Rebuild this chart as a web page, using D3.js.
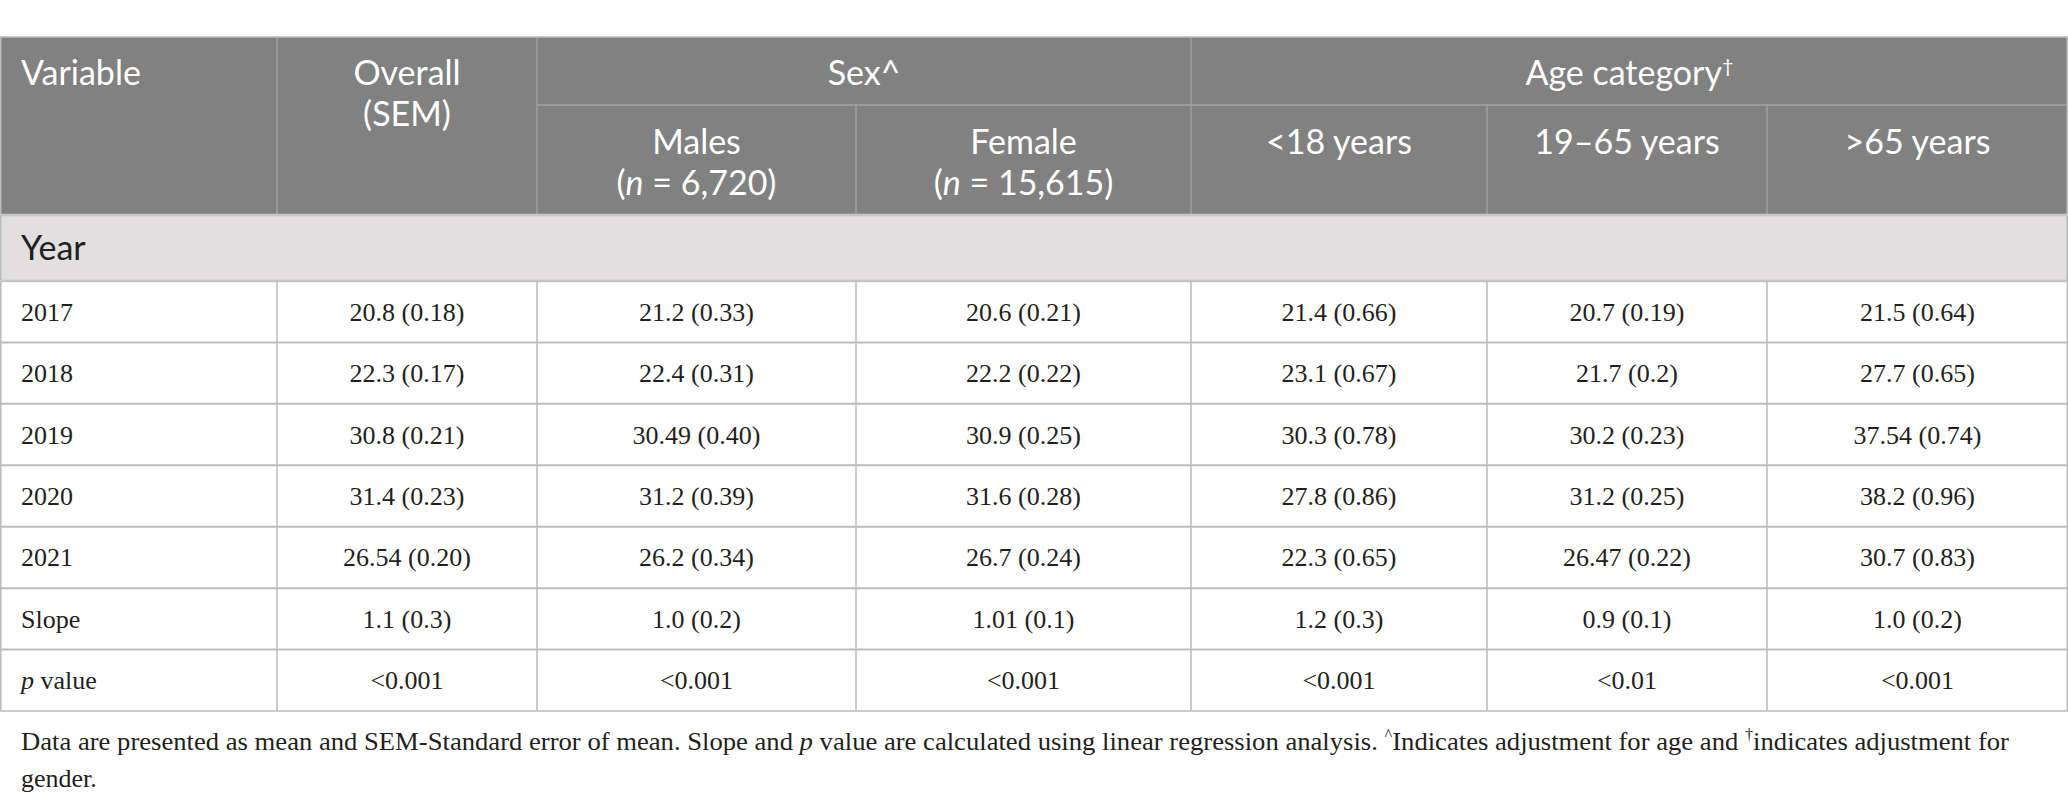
<!DOCTYPE html>
<html lang="en">
  <head>
    <meta charset="UTF-8" />
    <title>Trend table</title>
    <script src="https://d3js.org/d3.v7.min.js"></script>
    <style>
      body {
        margin: 0;
        background: #fff;
      }
      .head {
        font-family: Lato, "Open Sans", sans-serif;
        font-size: 34px;
        fill: #fff;
      }
      .cell {
        font-family: "Liberation Serif", serif;
        font-size: 26px;
        fill: #231f20;
      }
      .note {
        font-family: "Liberation Serif", serif;
        font-size: 26px;
        fill: #231f20;
      }
    </style>
  </head>
  <body>
    <svg id="chart" width="2068" height="805"></svg>

    <script>
      // table data
      const columns = ["variable", "overall", "males", "female", "under18", "age19to65", "over65"];
      const rowLabels = ["2017", "2018", "2019", "2020", "2021", "Slope", "p value"];
      const overall = ["20.8 (0.18)", "22.3 (0.17)", "30.8 (0.21)", "31.4 (0.23)", "26.54 (0.20)", "1.1 (0.3)", "<0.001"];
      const males = ["21.2 (0.33)", "22.4 (0.31)", "30.49 (0.40)", "31.2 (0.39)", "26.2 (0.34)", "1.0 (0.2)", "<0.001"];
      const female = ["20.6 (0.21)", "22.2 (0.22)", "30.9 (0.25)", "31.6 (0.28)", "26.7 (0.24)", "1.01 (0.1)", "<0.001"];
      const under18 = ["21.4 (0.66)", "23.1 (0.67)", "30.3 (0.78)", "27.8 (0.86)", "22.3 (0.65)", "1.2 (0.3)", "<0.001"];
      const age19to65 = ["20.7 (0.19)", "21.7 (0.2)", "30.2 (0.23)", "31.2 (0.25)", "26.47 (0.22)", "0.9 (0.1)", "<0.01"];
      const over65 = ["21.5 (0.64)", "27.7 (0.65)", "37.54 (0.74)", "38.2 (0.96)", "30.7 (0.83)", "1.0 (0.2)", "<0.001"];
      const footnote = [
        [["Data are presented as mean and SEM-Standard error of mean. Slope and ", ""], ["p", "italic"], [" value are calculated using linear regression analysis. ", ""], ["^", "sup"], ["Indicates adjustment for age and ", ""], ["†", "sup"], ["indicates adjustment for", ""]],
        [["gender.", ""]]
      ];

      const valueCols = { overall, males, female, under18, age19to65, over65 };

      const width = 2068;
      const colEdges = [0, 277, 537, 856, 1191, 1487, 1767, 2068];
      const tableTop = 37;
      const headMid = 105;
      const headBottom = 215;
      const sectionBottom = 281;
      const tableBottom = 711;

      const svg = d3.select("#chart");

      const x = d3.scaleOrdinal().domain(columns).range(colEdges.slice(0, -1));
      const colW = (c) => colEdges[columns.indexOf(c) + 1] - x(c);
      const y = d3.scaleBand().domain(rowLabels).range([sectionBottom, tableBottom]);

      // backgrounds
      svg.append("rect").attr("x", 0).attr("y", tableTop).attr("width", width).attr("height", headBottom - tableTop).attr("fill", "#808180");
      svg.append("rect").attr("x", 0).attr("y", headBottom).attr("width", width).attr("height", sectionBottom - headBottom).attr("fill", "#e1dfe0");

      // header grid
      const hg = svg.append("g").attr("stroke", "#a3a4a3").attr("stroke-width", 1.3);
      hg.append("line").attr("x1", x("males")).attr("x2", width).attr("y1", headMid).attr("y2", headMid);
      [
        ["overall", tableTop],
        ["males", tableTop],
        ["female", headMid],
        ["under18", tableTop],
        ["age19to65", headMid],
        ["over65", headMid]
      ].forEach(([c, top]) => {
        hg.append("line").attr("x1", x(c)).attr("x2", x(c)).attr("y1", top).attr("y2", headBottom);
      });

      // body grid
      const bg = svg.append("g").attr("stroke", "#bcbcbc").attr("stroke-width", 1.5).attr("fill", "none");
      bg.append("rect").attr("x", 0.75).attr("y", tableTop).attr("width", width - 1.5).attr("height", tableBottom - tableTop);
      bg.append("line").attr("x1", 0).attr("x2", width).attr("y1", headBottom).attr("y2", headBottom).attr("stroke", "#c6c6c6").attr("stroke-width", 2.5);
      bg.append("line").attr("x1", 0).attr("x2", width).attr("y1", sectionBottom).attr("y2", sectionBottom).attr("stroke", "#c6c6c6").attr("stroke-width", 2.5);
      rowLabels.slice(1).forEach((r) => {
        bg.append("line").attr("x1", 0).attr("x2", width).attr("y1", y(r)).attr("y2", y(r)).attr("stroke-width", 2);
      });
      columns.slice(1).forEach((c) => {
        bg.append("line").attr("x1", x(c)).attr("x2", x(c)).attr("y1", sectionBottom).attr("y2", tableBottom);
      });

      // header text
      const head = svg.append("g").attr("class", "head");
      const headText = (px, py, anchor, parts) => {
        const t = head.append("text").attr("x", px).attr("y", py).attr("text-anchor", anchor);
        parts.forEach(([s, st]) => {
          const sp = t.append("tspan").text(s);
          if (st === "italic") sp.attr("font-style", "italic");
          if (st === "sup") sp.attr("font-size", "20px").attr("dy", -12);
        });
      };
      const cx = (c) => x(c) + colW(c) / 2;
      headText(21, 85, "start", [["Variable", ""]]);
      headText(cx("overall"), 85, "middle", [["Overall", ""]]);
      headText(cx("overall"), 126, "middle", [["(SEM)", ""]]);
      headText((x("males") + x("under18")) / 2, 85, "middle", [["Sex^", ""]]);
      headText((x("under18") + width) / 2, 85, "middle", [["Age category", ""], ["†", "sup"]]);
      headText(cx("males"), 154, "middle", [["Males", ""]]);
      headText(cx("males"), 195, "middle", [["(", ""], ["n", "italic"], [" = 6,720)", ""]]);
      headText(cx("female"), 154, "middle", [["Female", ""]]);
      headText(cx("female"), 195, "middle", [["(", ""], ["n", "italic"], [" = 15,615)", ""]]);
      headText(cx("under18"), 154, "middle", [["<18 years", ""]]);
      headText(cx("age19to65"), 154, "middle", [["19\u201365 years", ""]]);
      headText(cx("over65"), 154, "middle", [[">65 years", ""]]);

      // section row
      svg.append("text").attr("class", "head").attr("x", 21).attr("y", 260).style("fill", "#231f20").text("Year");

      // body cells
      const body = svg.append("g").attr("class", "cell");
      const base = y.bandwidth() / 2 + 9;
      rowLabels.forEach((r) => {
        const t = body.append("text").attr("x", 21).attr("y", y(r) + base);
        if (r === "p value") {
          t.append("tspan").attr("font-style", "italic").text("p");
          t.append("tspan").text(" value");
        } else {
          t.text(r);
        }
      });
      Object.entries(valueCols).forEach(([c, vals]) => {
        body
          .selectAll(null)
          .data(vals)
          .enter()
          .append("text")
          .attr("x", cx(c))
          .attr("y", (d, i) => y(rowLabels[i]) + base)
          .attr("text-anchor", "middle")
          .text((d) => d);
      });

      // footnote
      const noteLen = [1988, null];
      footnote.forEach((line, i) => {
        const t = svg.append("text").attr("class", "note").attr("x", 21).attr("y", 750 + i * 37);
        if (noteLen[i]) t.attr("textLength", noteLen[i]).attr("lengthAdjust", "spacingAndGlyphs");
        line.forEach(([s, st]) => {
          const sp = t.append("tspan").text(s);
          if (st === "italic") sp.attr("font-style", "italic");
          if (st === "sup") sp.attr("font-size", "16px").attr("dy", -10);
          else if (st !== "sup" && sp.node().previousSibling && sp.node().previousSibling.getAttribute("dy")) sp.attr("dy", 10);
        });
      });
    </script>
  </body>
</html>
